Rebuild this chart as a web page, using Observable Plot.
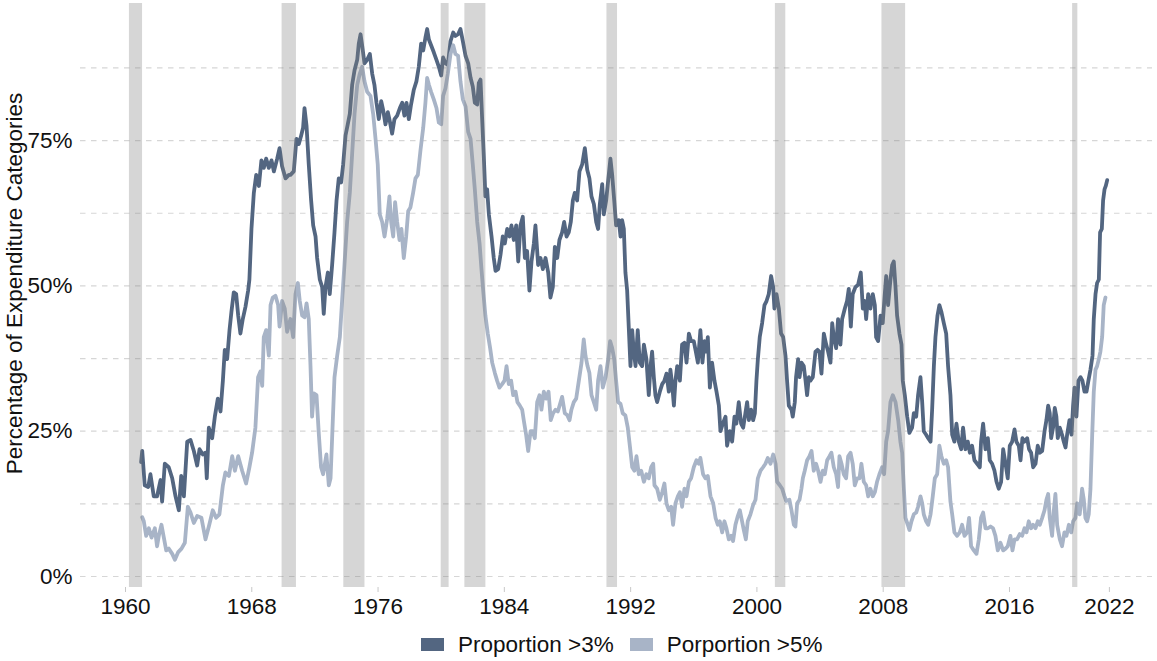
<!DOCTYPE html>
<html>
<head>
<meta charset="utf-8">
<script src="https://cdn.jsdelivr.net/npm/d3@7"></script>
<script src="https://cdn.jsdelivr.net/npm/@observablehq/plot@0.6"></script>
<style>
  body { margin: 0; background: #fff; font-family: "Liberation Sans", Arial, sans-serif; }
  #chart svg { display: block; }
  #legend { padding-left: 421px; margin-top: 6px; }
  .lg-swatch { margin-right: 16px !important; }
  .lg-swatch > svg { margin-right: 14px !important; }
</style>
</head>
<body>
<div id="chart"></div>
<div id="legend"></div>
<script>
// ---------- data ----------
const seriesNames = ["Proportion >3%", "Porportion >5%"];
const seriesColors = ["#536681", "#a8b4c7"];

const darkYears = [1960.99,1961.06,1961.22,1961.44,1961.58,1961.79,1962.0,1962.22,1962.32,1962.49,1962.74,1962.96,1963.17,1963.38,1963.53,1963.7,1963.91,1964.12,1964.33,1964.54,1964.69,1964.9,1965.07,1965.15,1965.28,1965.49,1965.66,1965.85,1966.02,1966.17,1966.29,1966.44,1966.59,1966.71,1966.86,1967.01,1967.14,1967.28,1967.43,1967.6,1967.77,1967.85,1967.98,1968.13,1968.28,1968.45,1968.61,1968.76,1968.91,1969.08,1969.25,1969.4,1969.61,1969.76,1969.92,1970.14,1970.35,1970.45,1970.66,1970.83,1970.98,1971.13,1971.25,1971.34,1971.47,1971.61,1971.76,1971.89,1972.04,1972.14,1972.31,1972.46,1972.56,1972.67,1972.82,1972.94,1973.09,1973.24,1973.37,1973.51,1973.66,1973.79,1973.94,1974.08,1974.21,1974.36,1974.51,1974.68,1974.78,1974.89,1974.99,1975.14,1975.31,1975.48,1975.63,1975.77,1975.9,1976.05,1976.2,1976.32,1976.47,1976.62,1976.74,1976.89,1977.04,1977.21,1977.38,1977.53,1977.67,1977.8,1977.95,1978.09,1978.26,1978.43,1978.58,1978.73,1978.86,1979.0,1979.11,1979.22,1979.36,1979.53,1979.7,1979.85,1980.0,1980.12,1980.27,1980.42,1980.59,1980.76,1980.9,1981.07,1981.22,1981.37,1981.54,1981.71,1981.86,1982.0,1982.13,1982.28,1982.38,1982.49,1982.59,1982.7,1982.8,1982.91,1983.02,1983.19,1983.33,1983.44,1983.61,1983.76,1983.9,1984.03,1984.18,1984.33,1984.45,1984.6,1984.75,1984.88,1985.02,1985.17,1985.3,1985.44,1985.59,1985.72,1985.87,1985.97,1986.14,1986.29,1986.44,1986.61,1986.78,1986.92,1987.07,1987.2,1987.35,1987.49,1987.66,1987.79,1987.94,1988.08,1988.21,1988.34,1988.46,1988.61,1988.76,1988.93,1989.1,1989.25,1989.39,1989.52,1989.67,1989.82,1989.94,1990.05,1990.2,1990.3,1990.45,1990.58,1990.72,1990.83,1990.96,1991.08,1991.25,1991.36,1991.46,1991.57,1991.67,1991.78,1991.88,1991.99,1992.1,1992.2,1992.31,1992.45,1992.58,1992.73,1992.84,1993.0,1993.15,1993.26,1993.36,1993.47,1993.57,1993.68,1993.85,1994.0,1994.14,1994.27,1994.42,1994.52,1994.63,1994.74,1994.84,1994.95,1995.12,1995.26,1995.41,1995.54,1995.69,1995.83,1996.0,1996.13,1996.26,1996.42,1996.55,1996.68,1996.8,1996.89,1997.02,1997.16,1997.31,1997.44,1997.59,1997.69,1997.84,1998.01,1998.11,1998.28,1998.43,1998.58,1998.7,1998.85,1999.0,1999.13,1999.27,1999.38,1999.49,1999.63,1999.76,1999.87,1999.97,2000.06,2000.18,2000.33,2000.48,2000.61,2000.75,2000.9,2001.03,2001.11,2001.24,2001.39,2001.53,2001.66,2001.81,2001.91,2002.02,2002.19,2002.27,2002.4,2002.48,2002.61,2002.7,2002.82,2002.97,2003.08,2003.18,2003.29,2003.39,2003.54,2003.71,2003.84,2003.96,2004.09,2004.24,2004.39,2004.51,2004.66,2004.77,2004.87,2005.02,2005.14,2005.29,2005.4,2005.57,2005.71,2005.82,2005.95,2006.07,2006.24,2006.41,2006.58,2006.71,2006.83,2006.92,2007.05,2007.19,2007.34,2007.47,2007.55,2007.68,2007.83,2007.97,2008.1,2008.19,2008.31,2008.46,2008.57,2008.67,2008.78,2008.88,2009.03,2009.16,2009.24,2009.37,2009.52,2009.66,2009.83,2009.94,2010.09,2010.21,2010.36,2010.47,2010.57,2010.72,2010.85,2011.0,2011.1,2011.21,2011.31,2011.44,2011.56,2011.69,2011.84,2011.99,2012.11,2012.26,2012.37,2012.51,2012.64,2012.79,2012.94,2013.06,2013.21,2013.36,2013.49,2013.63,2013.78,2013.95,2014.12,2014.2,2014.33,2014.48,2014.63,2014.75,2014.9,2015.05,2015.18,2015.32,2015.47,2015.6,2015.75,2015.89,2016.02,2016.17,2016.32,2016.44,2016.59,2016.7,2016.82,2016.95,2017.12,2017.24,2017.37,2017.5,2017.65,2017.79,2017.92,2018.07,2018.22,2018.34,2018.45,2018.55,2018.64,2018.76,2018.87,2018.97,2019.06,2019.19,2019.33,2019.44,2019.55,2019.65,2019.8,2019.93,2020.03,2020.12,2020.24,2020.37,2020.5,2020.62,2020.75,2020.88,2021.0,2021.13,2021.26,2021.34,2021.45,2021.55,2021.66,2021.74,2021.85,2021.93,2022.02,2022.1,2022.19];
const darkValues = [19.7,21.6,15.7,15.4,17.6,13.8,13.8,16.6,12.9,19.4,18.8,16.9,13.8,11.4,17.3,13.8,23.2,23.5,21.6,19.1,21.9,21.0,21.3,16.9,25.6,23.8,27.5,30.6,28.4,33.7,39.0,37.4,42.4,45.5,48.9,48.6,44.9,41.8,44.3,46.4,49.2,51.1,59.8,66.0,69.1,67.2,71.6,70.3,71.9,70.3,71.6,69.7,71.9,73.7,70.6,68.5,69.1,69.1,69.7,75.3,74.4,75.9,77.2,80.6,77.5,70.9,64.7,60.4,58.5,54.8,51.1,49.8,45.2,49.8,52.3,48.6,53.6,59.2,64.7,68.5,67.8,70.9,75.9,77.8,79.6,84.6,87.1,88.9,91.7,93.3,91.4,88.3,88.9,89.9,86.5,84.6,81.5,78.7,81.8,80.3,77.8,79.9,78.4,76.2,78.7,79.3,80.6,81.5,79.3,81.5,78.7,81.2,83.7,85.2,87.7,91.7,90.5,92.7,94.2,92.4,91.4,90.2,88.9,87.7,86.2,89.3,88.3,88.0,92.1,93.6,93.0,93.3,94.2,92.1,89.6,88.3,85.8,84.3,81.5,81.2,84.9,85.5,79.0,72.2,65.4,66.6,62.3,58.5,54.8,52.6,52.9,55.4,58.5,57.3,59.8,58.5,60.4,57.9,60.4,54.2,60.4,61.9,54.8,56.0,49.2,54.2,57.3,60.4,53.6,54.8,52.9,54.8,52.3,48.0,49.8,56.7,54.8,57.9,59.2,61.0,58.5,59.2,61.0,64.7,66.0,64.7,69.7,70.9,73.7,70.0,68.5,65.4,64.1,61.0,59.8,64.1,67.5,62.3,64.7,68.2,71.9,69.1,64.7,60.4,61.3,58.5,61.3,59.8,52.3,49.2,43.0,36.2,42.4,38.7,36.2,42.4,36.8,36.2,39.9,37.4,31.2,36.2,38.7,34.3,31.2,30.0,31.8,33.1,33.7,34.9,31.8,35.6,33.1,29.4,33.7,36.2,33.7,39.9,40.2,36.8,41.8,40.5,40.5,38.7,36.8,42.4,36.8,40.5,38.7,41.2,32.5,36.8,33.7,31.8,29.4,25.0,26.3,27.5,22.5,25.0,23.2,27.5,26.3,30.0,26.3,25.6,28.1,30.0,26.9,28.7,26.9,28.1,33.7,37.4,41.2,43.6,46.7,47.4,48.6,51.7,49.8,46.1,48.6,46.1,41.8,41.2,38.0,33.7,29.4,28.7,27.5,30.0,34.3,37.4,34.3,36.8,36.2,33.7,31.2,34.3,33.7,34.3,38.7,39.0,38.7,34.9,41.8,39.9,38.7,36.8,43.6,41.2,39.3,44.3,39.9,44.3,46.1,47.4,49.5,43.0,48.6,49.8,50.2,52.3,46.1,47.4,44.3,48.6,46.1,48.6,46.7,41.2,40.5,44.9,43.6,48.6,51.7,46.7,51.1,53.6,54.2,49.8,44.9,41.8,39.9,33.7,31.2,27.5,24.7,25.6,28.1,27.5,31.2,34.3,30.0,25.0,24.4,23.8,23.2,28.7,36.2,41.2,44.9,46.7,45.5,43.6,41.8,36.2,31.2,24.4,23.2,26.3,23.2,21.9,25.6,21.9,23.2,21.3,22.5,20.0,19.4,18.8,23.2,26.3,21.9,23.8,20.0,19.4,18.2,16.3,15.1,16.3,21.9,19.4,16.9,22.5,23.2,25.3,23.2,22.5,20.0,23.8,23.2,23.8,21.9,21.3,18.8,19.4,22.5,21.3,21.6,25.0,26.9,29.4,28.1,23.8,25.6,29.0,27.5,23.8,25.6,24.4,23.2,22.2,24.4,26.9,24.4,29.4,32.5,27.5,33.7,34.3,33.7,31.8,31.8,33.7,35.6,38.0,44.3,48.6,50.5,51.1,59.2,59.8,64.7,66.6,67.2,68.2];

const lightYears = [1961.06,1961.16,1961.31,1961.48,1961.65,1961.86,1962.0,1962.11,1962.28,1962.43,1962.58,1962.74,1962.96,1963.13,1963.34,1963.55,1963.76,1963.95,1964.12,1964.33,1964.54,1964.81,1965.07,1965.28,1965.53,1965.74,1965.95,1966.17,1966.33,1966.55,1966.76,1966.93,1967.14,1967.39,1967.64,1967.85,1968.02,1968.23,1968.4,1968.55,1968.66,1968.76,1968.91,1969.08,1969.19,1969.33,1969.5,1969.67,1969.76,1969.92,1970.09,1970.24,1970.45,1970.62,1970.77,1970.92,1971.04,1971.19,1971.34,1971.47,1971.61,1971.72,1971.82,1971.93,1972.1,1972.25,1972.39,1972.52,1972.73,1972.88,1972.99,1973.09,1973.24,1973.41,1973.58,1973.72,1973.87,1974.04,1974.21,1974.36,1974.51,1974.68,1974.84,1974.99,1975.14,1975.31,1975.52,1975.69,1975.84,1975.98,1976.11,1976.26,1976.41,1976.58,1976.72,1976.83,1976.96,1977.08,1977.21,1977.36,1977.48,1977.63,1977.78,1977.91,1978.05,1978.22,1978.37,1978.52,1978.69,1978.86,1979.0,1979.11,1979.22,1979.36,1979.53,1979.7,1979.85,1980.0,1980.12,1980.27,1980.42,1980.59,1980.76,1980.9,1981.07,1981.22,1981.37,1981.54,1981.71,1981.86,1982.0,1982.13,1982.28,1982.43,1982.55,1982.68,1982.8,1982.95,1983.1,1983.23,1983.4,1983.54,1983.69,1983.86,1984.01,1984.14,1984.28,1984.43,1984.56,1984.71,1984.83,1984.98,1985.13,1985.23,1985.38,1985.51,1985.66,1985.8,1985.93,1986.08,1986.23,1986.35,1986.5,1986.65,1986.8,1986.94,1987.09,1987.24,1987.39,1987.56,1987.66,1987.83,1987.98,1988.13,1988.25,1988.4,1988.55,1988.72,1988.89,1989.03,1989.14,1989.27,1989.39,1989.52,1989.67,1989.82,1989.94,1990.09,1990.24,1990.41,1990.58,1990.7,1990.83,1990.96,1991.08,1991.21,1991.36,1991.5,1991.67,1991.82,1991.95,1992.1,1992.24,1992.37,1992.52,1992.67,1992.84,1993.0,1993.15,1993.3,1993.43,1993.51,1993.68,1993.85,1994.0,1994.14,1994.27,1994.42,1994.57,1994.69,1994.84,1994.99,1995.12,1995.26,1995.41,1995.54,1995.69,1995.83,1996.0,1996.17,1996.32,1996.42,1996.59,1996.74,1996.89,1997.06,1997.23,1997.38,1997.52,1997.65,1997.8,1997.94,1998.07,1998.22,1998.37,1998.49,1998.64,1998.79,1998.92,1999.06,1999.17,1999.3,1999.42,1999.59,1999.76,1999.91,2000.06,2000.23,2000.39,2000.54,2000.69,2000.86,2001.03,2001.18,2001.28,2001.45,2001.6,2001.75,2001.85,2002.06,2002.19,2002.34,2002.44,2002.55,2002.7,2002.82,2002.91,2003.03,2003.18,2003.33,2003.46,2003.6,2003.75,2003.88,2004.03,2004.17,2004.3,2004.45,2004.6,2004.72,2004.87,2005.02,2005.14,2005.23,2005.36,2005.5,2005.65,2005.78,2005.93,2006.07,2006.2,2006.35,2006.5,2006.62,2006.77,2006.92,2007.05,2007.19,2007.34,2007.47,2007.61,2007.76,2007.93,2008.06,2008.19,2008.31,2008.46,2008.61,2008.78,2008.95,2009.09,2009.2,2009.31,2009.41,2009.56,2009.66,2009.79,2009.94,2010.09,2010.21,2010.36,2010.47,2010.57,2010.72,2010.85,2011.0,2011.14,2011.27,2011.42,2011.56,2011.69,2011.84,2011.99,2012.11,2012.26,2012.37,2012.51,2012.68,2012.85,2013.0,2013.15,2013.32,2013.44,2013.57,2013.74,2013.91,2014.06,2014.2,2014.33,2014.48,2014.63,2014.8,2014.96,2015.11,2015.26,2015.43,2015.6,2015.75,2015.89,2016.06,2016.19,2016.32,2016.48,2016.65,2016.8,2016.95,2017.08,2017.22,2017.37,2017.5,2017.65,2017.79,2017.92,2018.07,2018.22,2018.34,2018.45,2018.55,2018.7,2018.81,2018.91,2019.02,2019.19,2019.33,2019.48,2019.61,2019.76,2019.91,2020.03,2020.18,2020.29,2020.45,2020.6,2020.71,2020.81,2020.92,2021.02,2021.13,2021.24,2021.34,2021.45,2021.55,2021.66,2021.76,2021.87,2021.97,2022.08];
const lightValues = [10.2,9.5,7.0,8.3,6.7,8.3,5.2,7.0,8.9,6.7,4.5,4.8,3.9,2.9,4.2,4.8,5.8,12.0,11.0,9.2,10.4,10.1,6.4,8.6,11.4,10.1,10.7,15.7,17.9,17.3,20.7,18.2,20.7,18.2,16.0,18.8,21.3,25.6,34.3,35.3,32.8,41.2,42.4,38.0,46.7,48.0,48.3,46.7,43.0,47.4,46.1,42.1,44.3,41.2,48.6,50.5,47.4,44.9,44.6,47.0,44.3,36.2,27.5,31.5,31.2,24.4,18.8,17.6,21.0,15.7,16.9,23.8,34.3,38.0,41.2,47.4,53.6,61.0,66.0,72.8,79.6,84.6,86.5,87.7,85.2,83.4,82.7,79.6,75.3,70.9,62.3,61.0,58.5,61.6,65.4,61.0,58.5,64.4,61.0,57.9,59.8,54.8,58.5,62.9,63.5,66.0,68.5,69.1,73.4,77.2,81.5,85.8,84.6,83.4,82.1,80.6,78.1,77.8,82.7,84.0,86.5,89.9,91.4,89.9,89.6,85.2,82.1,80.9,76.5,75.3,70.9,66.6,61.0,57.3,52.9,48.6,44.9,41.8,39.3,36.8,35.0,33.7,32.5,33.1,33.7,36.2,33.1,33.7,31.2,31.8,30.0,29.4,28.7,26.9,24.4,21.6,25.0,25.0,23.8,30.0,31.2,28.7,31.8,30.6,31.8,26.9,28.1,28.7,28.4,30.0,30.9,28.1,27.8,26.9,28.7,30.0,30.6,33.7,36.8,40.8,38.0,36.2,35.0,31.2,30.0,28.7,33.7,36.2,32.5,34.3,37.4,40.5,39.3,37.4,33.7,30.0,29.7,28.1,27.7,25.6,22.5,18.8,18.2,20.7,17.6,18.2,16.3,17.6,16.9,18.8,19.4,15.7,15.1,13.2,14.5,16.0,12.6,11.4,12.0,8.9,12.6,13.8,14.5,12.0,15.1,13.8,16.3,16.9,18.8,20.0,19.4,20.4,17.6,16.9,17.3,13.8,12.6,10.1,8.9,9.5,7.6,9.5,8.3,6.4,7.0,6.1,8.9,10.4,11.4,9.5,8.0,6.4,9.5,10.7,12.3,13.2,16.9,18.2,18.8,19.4,20.4,19.4,21.0,19.4,16.3,15.7,15.1,13.8,13.0,13.2,11.4,8.9,8.6,12.6,13.2,15.1,16.9,18.2,20.0,20.7,21.6,18.2,19.4,18.2,16.3,18.2,17.6,20.0,20.7,21.3,18.8,17.6,15.4,20.7,19.4,17.6,16.9,20.7,21.3,19.4,15.7,16.9,16.9,19.4,16.3,15.7,13.8,15.1,13.8,14.5,16.3,17.6,18.8,17.6,23.2,25.0,30.0,31.2,30.0,26.9,23.2,21.3,15.1,10.1,8.9,8.0,9.5,10.7,11.0,12.0,13.8,12.6,10.7,9.5,8.9,10.7,13.8,16.9,17.6,22.5,20.7,19.4,20.0,18.8,12.9,10.7,7.6,7.0,7.6,8.9,7.0,7.6,10.1,5.2,4.5,3.9,6.4,10.1,11.0,8.3,8.3,8.6,8.3,7.0,4.5,5.8,4.5,4.8,5.2,7.0,4.5,6.4,6.4,7.3,7.0,8.3,7.6,9.5,8.3,8.9,8.3,9.5,8.9,10.1,11.4,13.2,14.2,10.1,7.0,11.4,14.2,8.9,6.4,5.2,7.6,7.0,8.9,7.6,9.5,10.1,12.6,10.7,15.1,13.2,10.1,9.5,10.7,15.1,24.4,31.8,35.6,36.2,37.4,38.7,41.2,46.7,48.0];

// NBER recessions (decimal years)
const recessionStart = [1960.25, 1969.92, 1973.83, 1980.0, 1981.5, 1990.5, 2001.17, 2007.92, 2020.0];
const recessionEnd   = [1961.08, 1970.83, 1975.17, 1980.5, 1982.83, 1991.17, 2001.83, 2009.42, 2020.33];

const xTicks = [1960, 1968, 1976, 1984, 1992, 2000, 2008, 2016, 2022.33];
const xTickLabels = ["1960", "1968", "1976", "1984", "1992", "2000", "2008", "2016", "2022"];
const yTicks = [0, 25, 50, 75];
const yGrid = [0, 12.5, 25, 37.5, 50, 62.5, 75, 87.5];
const yTitle = "Percentage of Expenditure Categories";

// ---------- build ----------
const rows = [];
darkYears.forEach((y, i) => rows.push({year: y, value: darkValues[i], series: seriesNames[0]}));
lightYears.forEach((y, i) => rows.push({year: y, value: lightValues[i], series: seriesNames[1]}));
const recessions = recessionStart.map((s, i) => ({start: s, end: recessionEnd[i]}));

const font = "'Liberation Sans', Arial, sans-serif";
const fs = 22.5;

const chart = Plot.plot({
  width: 1157,
  height: 622,
  marginLeft: 80,
  marginRight: 5,
  marginTop: 3,
  marginBottom: 35,
  style: {fontFamily: font, fontSize: fs + "px", color: "#111", background: "#fff"},
  x: {domain: [1957.15, 2025.06], axis: null},
  y: {domain: [-1.89, 98.59], axis: null},
  color: {domain: seriesNames, range: seriesColors},
  marks: [
    Plot.gridY({ticks: yGrid, stroke: "#d6d6d6", strokeOpacity: 1, strokeWidth: 1.2, strokeDasharray: "5.5,5.5"}),
    Plot.line(rows, {x: "year", y: "value", z: "series", stroke: "series", strokeWidth: 3.8, strokeLinejoin: "round"}),
    Plot.rect(recessions, {x1: "start", x2: "end", fill: "#7f7f7f", fillOpacity: 0.32}),
    Plot.axisX({ticks: xTicks, tickFormat: d => xTickLabels[xTicks.indexOf(d)], tickSize: 5, tickPadding: 6,
                stroke: "#c8c8c8", fill: "#111", fontSize: fs, label: null}),
    Plot.axisY({ticks: yTicks, tickFormat: d => d + "%", tickSize: 0, tickPadding: 8, fill: "#111", fontSize: fs, label: null}),
    Plot.text([yTitle], {frameAnchor: "left", dx: -66, dy: -12, rotate: -90, fontSize: fs, fill: "#111", textAnchor: "middle"})
  ]
});
document.getElementById("chart").appendChild(chart);

const legend = Plot.legend({
  color: {domain: seriesNames, range: seriesColors},
  legend: "swatches",
  swatchWidth: 23,
  swatchHeight: 13,
  className: "lg",
  style: {fontFamily: font, fontSize: fs + "px", color: "#111"}
});
document.getElementById("legend").appendChild(legend);
</script>
</body>
</html>
